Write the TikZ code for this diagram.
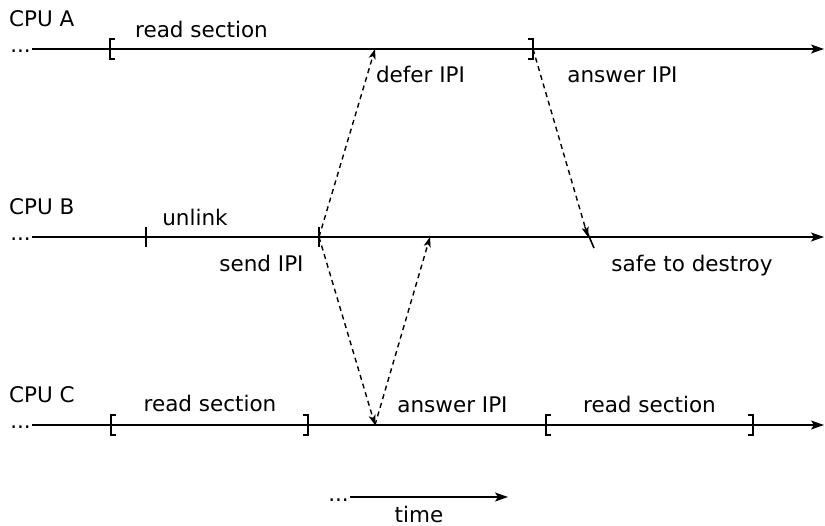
\documentclass[tikz,border=0pt]{standalone}
\usepackage{fontspec}
\setmainfont{DejaVu Sans}
\usetikzlibrary{positioning,arrows.meta,calc}

\begin{document}
\begin{tikzpicture}[
    x=1pt, y=-1pt,
    font=\fontsize{21.5}{25}\selectfont,
    timeline/.style={-{Stealth[length=13pt, width=9pt, inset=3pt]}, line width=1.6pt},
    msg/.style={-{Stealth[length=10pt, width=7pt, inset=2.5pt]}, line width=1.4pt,
                dash pattern=on 5pt off 4pt},
    tickmark/.style={line width=1.6pt},
    lbl/.style={inner sep=0pt, anchor=base},
    dots/.style={inner sep=0pt, anchor=base east},
  ]
    \useasboundingbox (0,0) rectangle (825,526);

    % the three CPUs
    \foreach \cpu/\y in {A/49, B/237, C/425} {
      \node[inner sep=0pt, anchor=base west] (cpu\cpu) at (9,\y-22) {CPU \cpu};
      \coordinate (start\cpu) at (32,\y);
      \coordinate (end\cpu) at (824,\y);
      \node[dots] (dots\cpu) at (31,\y+4) {...};
      \draw[timeline] (start\cpu) -- (end\cpu);
    }

    % events
    \coordinate (openA) at (110,49);
    \coordinate (deferA) at (375,49);
    \coordinate (closeA) at (533,49);
    \coordinate (unlinkB) at (146,237);
    \coordinate (sendB) at (319,237);
    \coordinate (ackB) at (430,237);
    \coordinate (safeB) at (588,237);
    \coordinate (openC) at (111,425);
    \coordinate (closeC) at (308,425);
    \coordinate (answerC) at (375,425);
    \coordinate (reopenC) at (546,425);
    \coordinate (recloseC) at (753,425);

    % read sections
    \foreach \p in {openA, openC, reopenC}
      \draw[tickmark] ($(\p)+(5,-10)$) -- ++(-5,0) -- ++(0,20) -- ++(5,0);
    \foreach \p in {closeA, closeC, recloseC}
      \draw[tickmark] ($(\p)+(-5,-10)$) -- ++(5,0) -- ++(0,20) -- ++(-5,0);

    % ticks
    \draw[tickmark] ($(unlinkB)+(0,-10)$) -- ($(unlinkB)+(0,10)$);
    \draw[tickmark] ($(sendB)+(0,-10)$) -- ($(sendB)+(0,10)$);
    \draw[tickmark] ($(safeB)+(-3,-10)$) -- ($(safeB)+(6,11)$);

    % labels
    \node[lbl] (readA) at (201.5,38) {read section};
    \node[lbl] (deferlbl) at (420.5,83) {defer IPI};
    \node[lbl] (answerlblA) at (622.5,83) {answer IPI};
    \node[lbl] (unlinklbl) at (195,226) {unlink};
    \node[lbl] (sendlbl) at (261.5,272) {send IPI};
    \node[lbl] (safelbl) at (692,272) {safe to destroy};
    \node[lbl] (readC) at (210,412) {read section};
    \node[lbl] (answerlblC) at (452.5,413) {answer IPI};
    \node[lbl] (rereadC) at (649.5,413) {read section};

    % IPIs
    \draw[msg] (sendB) -- (deferA);
    \draw[msg] (closeA) -- (safeB);
    \draw[msg] (sendB) -- (answerC);
    \draw[msg] (answerC) -- (ackB);

    % time axis
    \coordinate (timestart) at (350,497);
    \coordinate (timeend) at (508,497);
    \node[dots] (timedots) at (349,501) {...};
    \draw[timeline] (timestart) -- (timeend);
    \node[lbl] (timelbl) at (419,522) {time};
  \end{tikzpicture}
\end{document}
